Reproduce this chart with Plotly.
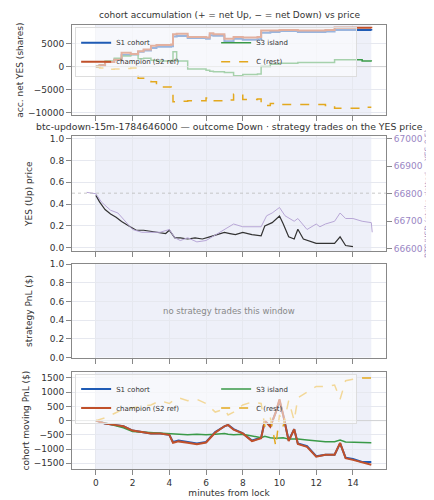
import plotly.graph_objects as go

# ---- cohort accumulation (shares) ----
acc_t = [0, 0.2, 0.5, 1.0, 1.4, 1.9, 2.3, 2.6, 3.0, 3.3, 4.1, 4.2, 4.4, 5.0, 6.0, 6.2, 6.4, 7.0, 7.5,
         8.0, 8.8, 9.0, 9.5, 10.0, 11.0, 12.5, 13.0, 14.5, 15.0]
acc_s1 = [0, 300, 1000, 1500, 2500, 2600, 3200, 3500, 4000, 4300, 4400, 6500, 6600, 6200, 6000, 6800, 6700,
          5500, 6000, 5800, 5900, 7300, 7500, 7700, 7500, 7600, 7900, 7900, 7800]
acc_champ = [0, 300, 1000, 1500, 3000, 2700, 3300, 3700, 4500, 4700, 4800, 7000, 7100, 6400, 6300, 7200, 7000,
             6000, 6400, 6300, 6400, 7800, 7800, 7900, 7800, 7900, 8400, 8400, 8300]
acc_s3 = [0, 300, 1200, 1800, 2300, 2600, 1700, 1800, 1400, 1200, 1300, 3200, 1200, -500, -800, -1000, -1100,
          -1300, -2000, -1700, -1600, 0, 500, 700, 900, 900, 1500, 1200, 1100]
acc_c = [0, -300, -600, -500, -400, -300, -2500, -3200, -3300, -4400, -4700, -7600, -7500, -7400, -6800, -7000,
         -7400, -7200, -6000, -7100, -7000, -8400, -8000, -8200, -8200, -8400, -9000, -8800, -8800]

# ---- YES price and BTC ----
yes_t = [0, 0.2, 0.5, 0.8, 1.1, 1.4, 1.8, 2.2, 2.6, 3.0, 3.4, 3.8, 4.0, 4.3, 4.6, 5.0, 5.4, 5.8, 6.2, 6.6,
         7.0, 7.3, 7.6, 8.0, 8.5, 9.0, 9.2, 9.6, 10.0, 10.2, 10.5, 10.8, 11.0, 11.3, 11.6, 12.0, 12.5, 13.0,
         13.3, 13.6, 14.0]
yes_p = [0.48, 0.42, 0.35, 0.31, 0.28, 0.24, 0.20, 0.16, 0.16, 0.15, 0.14, 0.13, 0.16, 0.09, 0.09, 0.08, 0.09,
         0.08, 0.10, 0.12, 0.14, 0.13, 0.12, 0.14, 0.12, 0.11, 0.20, 0.23, 0.29, 0.22, 0.10, 0.08, 0.17, 0.08,
         0.06, 0.04, 0.04, 0.04, 0.10, 0.02, 0.01]
btc_t = [-0.5, 0, 0.3, 0.8, 1.2, 1.6, 2.0, 2.5, 3.0, 3.5, 4.0, 4.3, 4.6, 5.0, 5.5, 6.0, 6.5, 7.0, 7.5, 8.0,
         8.5, 9.0, 9.3, 9.6, 10.0, 10.3, 10.8, 11.0, 11.5, 12.0, 12.2, 12.5, 13.0, 13.3, 13.6, 14.0, 14.5,
         15.0, 15.05]
btc_p = [66805, 66800, 66770, 66740, 66730, 66700, 66670, 66660, 66660, 66660, 66670, 66640, 66630, 66640,
         66625, 66630, 66650, 66670, 66690, 66680, 66680, 66680, 66720, 66730, 66750, 66720, 66700, 66710,
         66670, 66690, 66680, 66690, 66700, 66730, 66710, 66710, 66700, 66695, 66660]

# ---- cohort moving PnL ($) ----
pnl_t = [0, 0.5, 1.0, 1.5, 2.0, 2.5, 3.0, 3.5, 4.0, 4.2, 4.5, 5.0, 5.5, 6.0, 6.5, 7.0, 7.2, 7.5, 8.0, 8.5,
         9.0, 9.2, 9.5, 9.8, 10.0, 10.2, 10.5, 10.8, 11.0, 11.5, 12.0, 12.5, 13.0, 13.3, 13.6, 14.0, 14.5, 15.0]
pnl_s1 = [0, -100, -150, -200, -350, -400, -450, -450, -500, -750, -700, -750, -800, -750, -400, -200, -150,
          -300, -450, -700, -600, 0, -200, 300, 700, 200, -700, -300, -800, -900, -1250, -1200, -1200, -800,
          -1300, -1350, -1450, -1450]
pnl_champ = [0, -100, -150, -200, -350, -400, -450, -450, -500, -780, -730, -780, -830, -770, -420, -200, -150,
             -320, -450, -720, -620, 0, -220, 300, 750, 200, -720, -300, -820, -920, -1270, -1200, -1200, -780,
             -1320, -1380, -1470, -1550]
pnl_s3 = [0, -80, -150, -250, -380, -400, -430, -460, -480, -480, -500, -500, -480, -500, -480, -450, -480,
          -500, -480, -550, -600, -550, -600, -620, -600, -600, -650, -650, -650, -680, -720, -740, -740, -680,
          -750, -760, -770, -780]
pnl_c = [0, 100, 250, 400, 450, 500, 550, 700, 600, 700, 800, 700, 750, 600, 300, 400, 200, 300, 550, 650,
         600, -200, 100, -900, 200, -200, 700, 0, 800, 1000, 1200, 1200, 1250, 750, 1400, 1450, 1500, 1500]

BLUE, RED, GREEN, GOLD = "#1f5bb5", "#c0502a", "#3a9a48", "#e3a81e"

fig = go.Figure()

def add_cohort(t, s1, champ, s3, c, xa, ya, legend, shape):
    # order S1, S3, champion, C so the horizontal legend reads as two columns
    fig.add_trace(go.Scatter(x=t, y=s1, name="S1 cohort", line=dict(color=BLUE, width=2, shape=shape),
                             xaxis=xa, yaxis=ya, legend=legend, legendrank=1))
    fig.add_trace(go.Scatter(x=t, y=s3, name="S3 island", line=dict(color=GREEN, width=1.5, shape=shape),
                             xaxis=xa, yaxis=ya, legend=legend, legendrank=2))
    fig.add_trace(go.Scatter(x=t, y=champ, name="champion (S2 ref)", line=dict(color=RED, width=2, shape=shape),
                             xaxis=xa, yaxis=ya, legend=legend, legendrank=3))
    fig.add_trace(go.Scatter(x=t, y=c, name="C (rest)", line=dict(color=GOLD, width=1.5, dash="dash", shape=shape),
                             xaxis=xa, yaxis=ya, legend=legend, legendrank=4))

add_cohort(acc_t, acc_s1, acc_champ, acc_s3, acc_c, "x", "y", "legend", "hv")
fig.add_trace(go.Scatter(x=btc_t, y=btc_p, line=dict(color="#b7a6d6", width=1), xaxis="x2", yaxis="y5",
                         showlegend=False))
fig.add_trace(go.Scatter(x=yes_t, y=yes_p, line=dict(color="#333333", width=1.2), xaxis="x2", yaxis="y2",
                         showlegend=False))
add_cohort(pnl_t, pnl_s1, pnl_champ, pnl_s3, pnl_c, "x4", "y4", "legend2", "linear")

axis_style = dict(showline=True, linecolor="#888", mirror=True, ticks="outside", tickcolor="#888",
                  gridcolor="#e6e8ef", zeroline=False, tickfont=dict(size=9, color="#333"),
                  range=[-1.3, 15.8], tickvals=[0, 2, 4, 6, 8, 10, 12, 14])
ystyle = dict(showline=True, linecolor="#888", mirror=True, ticks="outside", tickcolor="#888",
              gridcolor="#e6e8ef", zeroline=False, tickfont=dict(size=9, color="#333"))

doms = {1: [0.797, 1.0], 2: [0.491, 0.749], 3: [0.251, 0.461], 4: [0.0, 0.218]}
for i in range(1, 5):
    sfx = "" if i == 1 else str(i)
    fig.layout["xaxis" + sfx] = dict(axis_style, anchor="y" + sfx, domain=[0, 1],
                                     showticklabels=(i == 4),
                                     title=dict(text="minutes from lock", font=dict(size=9), standoff=2) if i == 4 else None)
    fig.layout["yaxis" + sfx] = dict(ystyle, anchor="x" + sfx, domain=doms[i])

fig.layout.yaxis.update(range=[-10500, 9000], tickvals=[-10000, -5000, 0, 5000], tickformat="d",
                        title=dict(text="acc. net YES (shares)", font=dict(size=9), standoff=2))
fig.layout.yaxis2.update(range=[-0.03, 1.02], tickvals=[0, 0.2, 0.4, 0.6, 0.8, 1.0], tickformat=".1f",
                         title=dict(text="YES (Up) price", font=dict(size=9)))
fig.layout.yaxis3.update(range=[0, 1], tickvals=[0, 0.2, 0.4, 0.6, 0.8, 1.0], tickformat=".1f",
                         title=dict(text="strategy PnL ($)", font=dict(size=9)))
fig.layout.yaxis4.update(range=[-1700, 1700], tickvals=[-1500, -1000, -500, 0, 500, 1000, 1500], tickformat="d",
                         title=dict(text="cohort moving PnL ($)", font=dict(size=9), standoff=2))
fig.layout.yaxis5 = dict(overlaying="y2", side="right", anchor="x2", range=[66592, 67008],
                         tickvals=[66600, 66700, 66800, 66900, 67000], tickformat="d", showgrid=False,
                         ticks="outside", tickcolor="#888", tickfont=dict(size=9, color="#9a86c4"),
                         title=dict(text="BTC/USD (strike dotted = YES 0.5)", font=dict(size=7.5, color="#9a86c4"),
                                    standoff=2))

shapes = []
for xa, ya in [("x", "y"), ("x2", "y2"), ("x3", "y3"), ("x4", "y4")]:
    shapes.append(dict(type="rect", xref=xa, yref=ya + " domain", x0=0, x1=15, y0=0, y1=1,
                       fillcolor="#eef0f9", line_width=0, layer="below"))
shapes.append(dict(type="line", xref="x domain", yref="y", x0=0, x1=1, y0=0, y1=0, line=dict(color="#ccc", width=0.8)))
shapes.append(dict(type="line", xref="x2 domain", yref="y2", x0=0, x1=1, y0=0.5, y1=0.5,
                   line=dict(color="#bbb", width=0.8, dash="dot")))
shapes.append(dict(type="line", xref="x4 domain", yref="y4", x0=0, x1=1, y0=0, y1=0, line=dict(color="#ccc", width=0.8)))

annotations = [
    dict(text="cohort accumulation (+ = net Up, − = net Down) vs price", xref="paper", yref="paper",
         x=0.5, y=1.0, yshift=3, yanchor="bottom", showarrow=False, font=dict(size=9)),
    dict(text="btc-updown-15m-1784646000 — outcome Down · strategy trades on the YES price", xref="paper",
         yref="paper", x=0.5, y=0.749, yshift=2, yanchor="bottom", showarrow=False, font=dict(size=9.3)),
    dict(text="no strategy trades this window", xref="x3 domain", yref="y3 domain", x=0.5, y=0.5,
         showarrow=False, font=dict(size=8.5, color="#888")),
]

leg = dict(orientation="h", entrywidth=95, entrywidthmode="pixels", font=dict(size=7),
           bgcolor="rgba(255,255,255,0.55)", bordercolor="#ddd", borderwidth=1, tracegroupgap=0,
           itemwidth=30, yanchor="top")
fig.update_layout(
    width=434, height=500, margin=dict(l=47, r=41, t=15, b=27),
    paper_bgcolor="white", plot_bgcolor="white",
    font=dict(family="DejaVu Sans", size=9, color="#333"),
    shapes=shapes, annotations=annotations,
    legend=dict(leg, x=0.01, y=0.995),
    legend2=dict(leg, x=0.01, y=0.215),
)

fig.write_html("out.html")
